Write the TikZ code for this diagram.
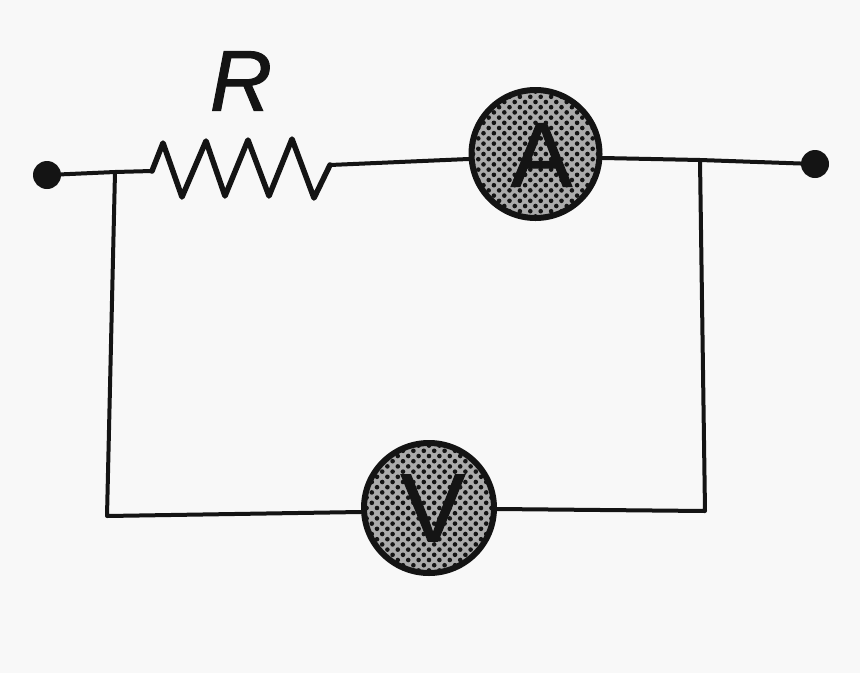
\documentclass[tikz,border=0pt]{standalone}
\usepackage{fontspec}
\setmainfont{Liberation Sans}
\newfontfamily\heavy[FakeBold=1.2]{Liberation Sans}
\newfontfamily\heavyit[FakeBold=1.2,ItalicFont={Liberation Sans Italic}]{Liberation Sans}
\definecolor{paper}{HTML}{F8F8F8}
\definecolor{ink}{HTML}{141414}
\definecolor{halftone}{HTML}{ABABAB}
\tikzset{
  wire/.style={draw=ink,line width=4pt,line join=round,line cap=round},
  zigzag/.style={draw=ink,line width=5.5pt,line join=round,line cap=round},
  terminal/.style={circle,fill=ink,minimum size=28pt,inner sep=0pt},
  letter/.style={inner sep=0pt,text=ink,font=\heavy\fontsize{92}{92}\selectfont},
  meter/.style={circle,draw=ink,line width=6pt,fill=halftone,minimum size=#1,inner sep=0pt,
    path picture={
      \foreach \i in {-8,...,8}{
        \foreach \j in {-15,...,15}{
          \pgfmathsetmacro{\ox}{\i*10.4+mod(abs(\j),2)*5.2}
          \pgfmathsetmacro{\oy}{\j*5.2}
          \fill[ink] ([xshift=\ox pt,yshift=\oy pt]path picture bounding box.center) circle (2.3pt);
        }
      }
    }},
}
\begin{document}
\begin{tikzpicture}[x=1pt,y=-1pt]
\useasboundingbox[fill=paper] (0,0) rectangle (860,673);
\node[terminal] (t1) at (47,175) {};
\node[terminal] (t2) at (815,164) {};
\node[meter=128pt] (A) at (535.5,154) {};
\node[meter=130pt] (V) at (429,508) {};
\node[letter] (la) at (541.5,155) {A};
\node[letter,font=\heavy\fontsize{97}{97}\selectfont] (lv) at (433,508) {V};
\node[letter,font=\heavyit\itshape\fontsize{86}{86}\selectfont] (R) at (241,81) {R};
\coordinate (j1) at (115,172);
\coordinate (j2) at (700,160);
\coordinate (c1) at (107,516);
\coordinate (c2) at (705,511);
\coordinate (r1) at (152,171);
\coordinate (r2) at (330,165);
\draw[zigzag] (r1) -- (163,143) -- (182,197) -- (206,141) -- (225,196) -- (248,140) -- (269,196) -- (292,139) -- (314,198) -- (r2);
\draw[wire] (t1) -- (j1) -- (r1);
\draw[wire] (r2) -- (A.west |- 0,159);
\draw[wire] (A.east |- 0,158) -- (j2) -- (t2);
\draw[wire] (j1) -- (c1) -- (V.west |- 0,512);
\draw[wire] (j2) -- (c2) -- (V.east |- 0,509);
\end{tikzpicture}
\end{document}
